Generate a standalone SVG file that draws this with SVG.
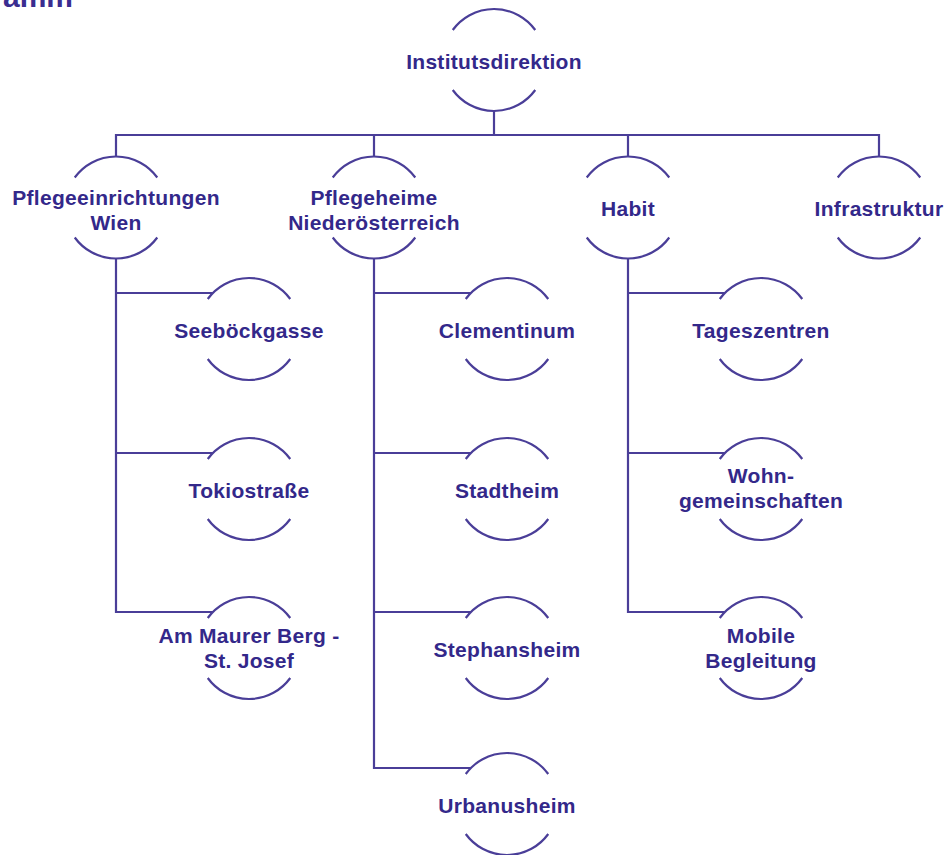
<svg xmlns="http://www.w3.org/2000/svg" xmlns:xlink="http://www.w3.org/1999/xlink" width="947" height="855" viewBox="0 0 947 855">
<style>
.ln{fill:none;stroke:#4a3e98;stroke-width:2.2;stroke-linecap:butt;stroke-linejoin:miter}
.t{font-family:"Liberation Sans",Arial,sans-serif;font-weight:700;font-size:21px;fill:#33288a;text-anchor:middle;letter-spacing:0.3px}
.title{font-family:"Liberation Sans",Arial,sans-serif;font-weight:700;font-size:30px;fill:#3a2d90;text-anchor:end}
</style>
<defs>
<path id="ring" class="ln" d="M-41.26 -29.98 A51 51 0 0 1 41.26 -29.98 M-41.26 29.98 A51 51 0 0 0 41.26 29.98"/>
</defs>
<rect width="947" height="855" fill="#ffffff"/>
<text class="title" x="73" y="7">amm</text>
<g id="connectors">
<path class="ln" d="M494 111 V135"/>
<path class="ln" d="M116 156.5 V135 H879 V156.5"/>
<path class="ln" d="M374 135 V156.5 M628 135 V156.5"/>
<path class="ln" d="M116 258.5 V612 H212.9 M116 293 H212.9 M116 453 H212.9"/>
<path class="ln" d="M374 258.5 V768 H470.9 M374 293 H470.9 M374 453 H470.9 M374 612 H470.9"/>
<path class="ln" d="M628 258.5 V612 H724.9 M628 293 H724.9 M628 453 H724.9"/>
</g>
<g id="institutsdirektion"><use xlink:href="#ring" x="494" y="60"/><text class="t" x="494" y="69">Institutsdirektion</text></g>
<g id="pflegeeinrichtungen-wien"><use xlink:href="#ring" x="116" y="207.5"/><text class="t" x="116" y="205">Pflegeeinrichtungen</text><text class="t" x="116" y="230">Wien</text></g>
<g id="pflegeheime-noe"><use xlink:href="#ring" x="374" y="207.5"/><text class="t" x="374" y="205">Pflegeheime</text><text class="t" x="374" y="230">Niederösterreich</text></g>
<g id="habit"><use xlink:href="#ring" x="628" y="207.5"/><text class="t" x="628" y="215.5">Habit</text></g>
<g id="infrastruktur"><use xlink:href="#ring" x="879" y="207.5"/><text class="t" x="879" y="215.5">Infrastruktur</text></g>
<g id="seeboeckgasse"><use xlink:href="#ring" x="249" y="329"/><text class="t" x="249" y="338">Seeböckgasse</text></g>
<g id="tokiostrasse"><use xlink:href="#ring" x="249" y="489"/><text class="t" x="249" y="498">Tokiostraße</text></g>
<g id="am-maurer-berg"><use xlink:href="#ring" x="249" y="648"/><text class="t" x="249" y="643">Am Maurer Berg -</text><text class="t" x="249" y="668">St. Josef</text></g>
<g id="clementinum"><use xlink:href="#ring" x="507" y="329"/><text class="t" x="507" y="338">Clementinum</text></g>
<g id="stadtheim"><use xlink:href="#ring" x="507" y="489"/><text class="t" x="507" y="498">Stadtheim</text></g>
<g id="stephansheim"><use xlink:href="#ring" x="507" y="648"/><text class="t" x="507" y="657">Stephansheim</text></g>
<g id="urbanusheim"><use xlink:href="#ring" x="507" y="804"/><text class="t" x="507" y="813">Urbanusheim</text></g>
<g id="tageszentren"><use xlink:href="#ring" x="761" y="329"/><text class="t" x="761" y="338">Tageszentren</text></g>
<g id="wohngemeinschaften"><use xlink:href="#ring" x="761" y="489"/><text class="t" x="761" y="483">Wohn-</text><text class="t" x="761" y="508">gemeinschaften</text></g>
<g id="mobile-begleitung"><use xlink:href="#ring" x="761" y="648"/><text class="t" x="761" y="643">Mobile</text><text class="t" x="761" y="668">Begleitung</text></g>
</svg>
